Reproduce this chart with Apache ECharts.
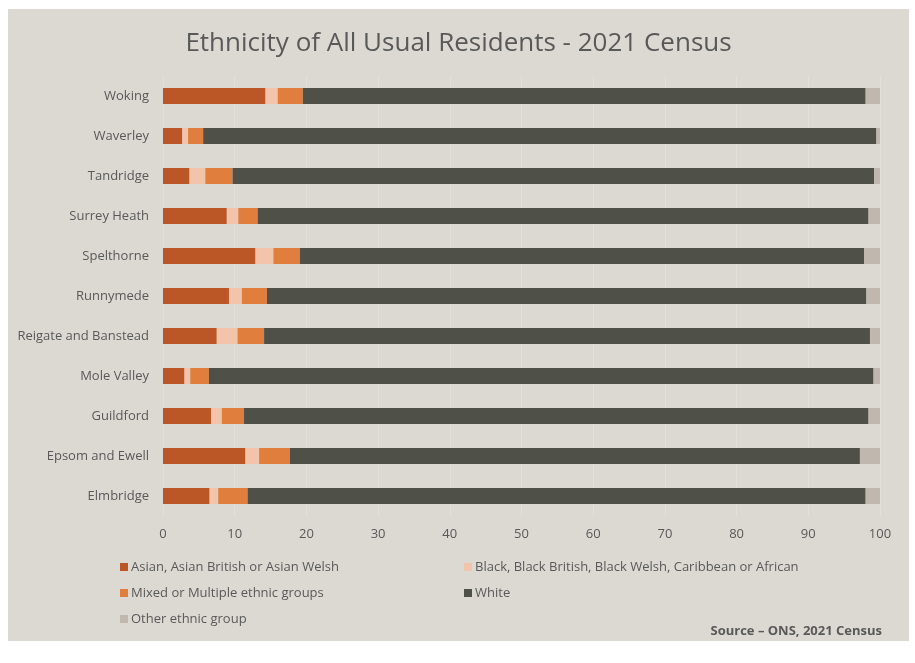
<!DOCTYPE html>
<html>
<head>
<meta charset="utf-8">
<script src="https://cdn.jsdelivr.net/npm/echarts@6/dist/echarts.min.js"></script>
<style>
  html, body { margin: 0; padding: 0; background: #ffffff; }
  #wrap { position: relative; width: 915px; height: 663px; background: #ffffff; }
  #chart { position: absolute; left: 8px; top: 9px; width: 901px; height: 632px; }
</style>
</head>
<body>
<div id="wrap"><div id="chart"></div></div>
<script>
const categories = ['Woking', 'Waverley', 'Tandridge', 'Surrey Heath', 'Spelthorne', 'Runnymede',
  'Reigate and Banstead', 'Mole Valley', 'Guildford', 'Epsom and Ewell', 'Elmbridge'];
const seriesNames = ['Asian, Asian British or Asian Welsh',
  'Black, Black British, Black Welsh, Caribbean or African',
  'Mixed or Multiple ethnic groups', 'White', 'Other ethnic group'];
const asian = [14.3, 2.7, 3.7, 8.9, 12.9, 9.2, 7.5, 3.0, 6.7, 11.5, 6.5];
const black = [1.7, 0.8, 2.2, 1.6, 2.5, 1.8, 2.9, 0.8, 1.5, 1.9, 1.2];
const mixed = [3.5, 2.1, 3.8, 2.7, 3.7, 3.5, 3.7, 2.6, 3.1, 4.3, 4.1];
const white = [78.5, 93.9, 89.5, 85.2, 78.7, 83.6, 84.5, 92.7, 87.1, 79.5, 86.2];
const other = [2.0, 0.5, 0.8, 1.6, 2.2, 1.9, 1.4, 0.9, 1.6, 2.8, 2.0];
const xTicks = [0, 10, 20, 30, 40, 50, 60, 70, 80, 90, 100];

const colors = ['#bb5627', '#f2c4ab', '#e07f3d', '#4f5149', '#c0b8ae'];
const values = [asian, black, mixed, white, other];
const font = '"Open Sans", "Noto Sans", sans-serif';

const chart = echarts.init(document.getElementById('chart'));
chart.setOption({
  backgroundColor: '#dcd9d3',
  animation: false,
  textStyle: { fontFamily: font },
  title: {
    text: 'Ethnicity of All Usual Residents - 2021 Census',
    left: 'center', top: 17,
    textStyle: { fontFamily: font, fontSize: 26, fontWeight: 'normal', color: '#595959' }
  },
  graphic: [{
    type: 'text', right: 27, top: 616,
    style: { text: 'Source \u2013 ONS, 2021 Census', fontFamily: font, fontSize: 13, fontWeight: 'bold', fill: '#595959' }
  }],
  legend: [
    {
      data: [seriesNames[0], seriesNames[2], seriesNames[4]],
      orient: 'vertical', left: 107, top: 546,
      itemWidth: 8, itemHeight: 8, itemGap: 12,
      icon: 'rect', selectedMode: false,
      textStyle: { fontFamily: font, fontSize: 13, color: '#595959', lineHeight: 14, padding: [0, 0, 0, -2] }
    },
    {
      data: [seriesNames[1], seriesNames[3]],
      orient: 'vertical', left: 451, top: 546,
      itemWidth: 8, itemHeight: 8, itemGap: 12,
      icon: 'rect', selectedMode: false,
      textStyle: { fontFamily: font, fontSize: 13, color: '#595959', lineHeight: 14, padding: [0, 0, 0, -2] }
    }
  ],
  grid: { left: 155, right: 29, top: 67, bottom: 125, containLabel: false },
  xAxis: {
    type: 'value', min: 0, max: 100, interval: 10,
    axisLine: { show: false }, axisTick: { show: false },
    axisLabel: { fontFamily: font, fontSize: 13, color: '#595959', margin: 12,
      formatter: v => xTicks.includes(v) ? String(v) : '' },
    splitLine: { show: true, lineStyle: { color: '#e3e0db', width: 1 } }
  },
  yAxis: {
    type: 'category', data: categories, inverse: true,
    axisLine: { show: false }, axisTick: { show: false },
    axisLabel: { fontFamily: font, fontSize: 13, color: '#595959', margin: 14 }
  },
  series: seriesNames.map((name, i) => ({
    name: name, type: 'bar', stack: 'total', barWidth: 16,
    data: values[i],
    itemStyle: { color: colors[i] }
  }))
});
</script>
</body>
</html>
